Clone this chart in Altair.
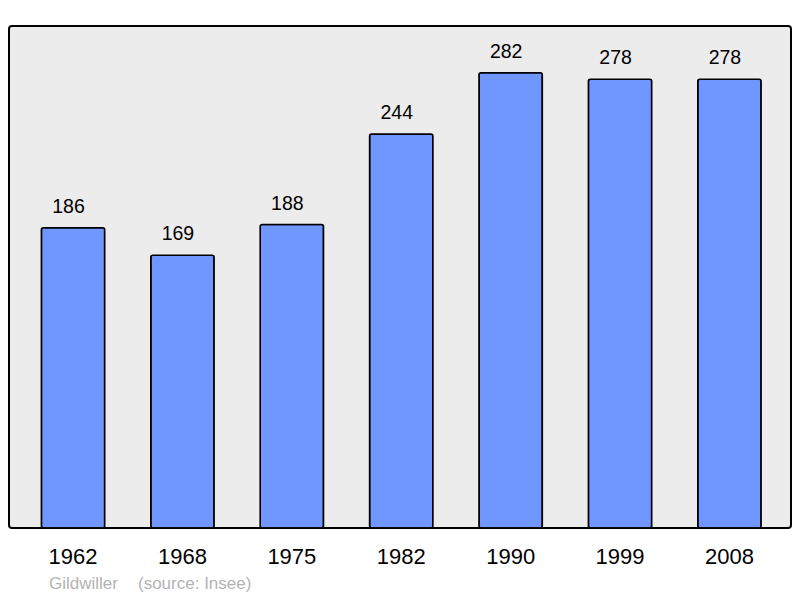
import altair as alt
import pandas as pd

years = ["1962", "1968", "1975", "1982", "1990", "1999", "2008"]
population = [186, 169, 188, 244, 282, 278, 278]
place = "Gildwiller"
source = "(source: Insee)"

df = pd.DataFrame({"year": years, "pop": population})

W, H = 782, 502

x = alt.X("year:N", sort=years, title=None,
          scale=alt.Scale(paddingInner=0.4214, paddingOuter=0.2847, align=0.52),
          axis=alt.Axis(labelAngle=0, labelFontSize=22, labelFont="Liberation Sans",
                        labelColor="#000000", domain=False, ticks=False, tickSize=0,
                        labelPadding=35, labelBaseline="alphabetic", grid=False))
y = alt.Y("pop:Q", scale=alt.Scale(domain=[0, 311], nice=False, zero=True), axis=None)

bars = alt.Chart(df).mark_bar(color="#7096ff", stroke="#000000", strokeWidth=1.6,
                              cornerRadius=2).encode(x=x, y=y)

labels = alt.Chart(df).mark_text(fontSize=19.5, font="Liberation Sans", color="#000000",
                                 baseline="alphabetic", dy=-15, dx=-4.5).encode(
    x=x, y=y, text="pop:Q")

foot = pd.DataFrame({"t": [place, source], "px": [40, 129]})
footer = alt.Chart(foot).mark_text(fontSize=17, font="Liberation Sans", color="#b3b3b3",
                                   align="left", baseline="alphabetic").encode(
    x=alt.X("px:Q", scale=None), y=alt.value(563), text="t:N")

chart = alt.layer(bars, labels, footer).properties(
    width=W, height=H,
    autosize=alt.AutoSizeParams(type="none"),
    padding={"left": 1, "top": 18, "right": 1, "bottom": 66},
    background="#ffffff",
).configure_view(fill="#ececec", stroke="#000000", strokeWidth=2, cornerRadius=3)

chart.save("out.html", embed_options={"renderer": "svg", "actions": False})
